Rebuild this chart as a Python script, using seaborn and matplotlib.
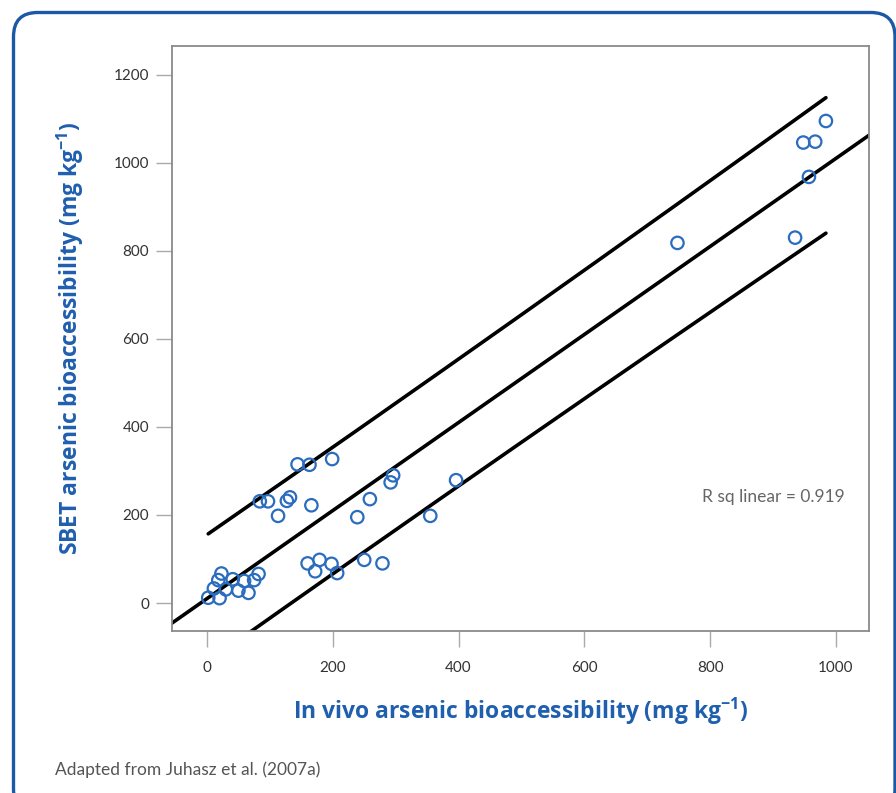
import numpy as np
import pandas as pd
import matplotlib
matplotlib.use("Agg")
import matplotlib.pyplot as plt
import seaborn as sns
from matplotlib.patches import FancyBboxPatch

# ---- data ----
in_vivo = [2, 20, 11, 18, 23, 30, 41, 50, 59, 66, 75, 82, 84, 97, 113, 127, 132,
           144, 163, 166, 199, 160, 172, 179, 198, 207, 239, 259, 250, 279, 292,
           296, 355, 396, 984, 948, 967, 957, 748, 935]
sbet = [12, 11, 33, 52, 67, 31, 54, 28, 50, 23, 52, 66, 231, 231, 198, 232, 240,
        315, 314, 222, 327, 90, 72, 98, 89, 68, 195, 236, 98, 90, 274, 290, 198,
        279, 1095, 1046, 1048, 968, 818, 830]
x_ticks = [0, 200, 400, 600, 800, 1000]
y_ticks = [0, 200, 400, 600, 800, 1000, 1200]
r_sq_text = "R sq linear = 0.919"
x_label = "In vivo arsenic bioaccessibility (mg kg$^{\\mathregular{-1}}$)"
y_label = "SBET arsenic bioaccessibility (mg kg$^{\\mathregular{-1}}$)"
caption = "Adapted from Juhasz et al. (2007a)"

# fitted line and prediction-interval scale
fit_intercept = 10.0
fit_slope = 1.0
pi_t_s = 142.0  # t * residual standard error

df = pd.DataFrame({"in_vivo": in_vivo, "sbet": sbet})

BLUE = "#1f5fae"
sns.set_theme(style="white")
plt.rcParams["font.family"] = ["Lato", "DejaVu Sans"]

fig = plt.figure(figsize=(8.96, 7.93), dpi=100)
ax = fig.add_axes([172 / 896, 1 - 631 / 793, (869 - 172) / 896, (631 - 45.7) / 793])

# individual prediction interval around the fitted line
x = np.asarray(in_vivo, float)
n = len(x)
sxx = np.sum((x - x.mean()) ** 2)
xg = np.linspace(x.min(), x.max(), 200)
yh = fit_intercept + fit_slope * xg
hw = pi_t_s * np.sqrt(1 + 1 / n + (xg - x.mean()) ** 2 / sxx)

ax.axline((0, fit_intercept), slope=fit_slope, color="black", lw=2.6, zorder=2)
ax.plot(xg, yh + hw, color="black", lw=2.6, zorder=2)
ax.plot(xg, yh - hw, color="black", lw=2.6, zorder=2)

sns.scatterplot(data=df, x="in_vivo", y="sbet", ax=ax, marker="o", s=80,
                facecolor="none", edgecolor="#2a6cbd", linewidth=1.6, zorder=3)

ax.set_xlim(-55.6, 1052.5)
ax.set_ylim(-63.6, 1266)
ax.set_xticks(x_ticks)
ax.set_yticks(y_ticks)
ax.tick_params(axis="both", which="major", direction="out", length=11.5,
               width=1.0, color="#aaaaaa", labelsize=11, labelcolor="#333333",
               left=True, bottom=True)
ax.tick_params(axis="x", pad=10)
ax.tick_params(axis="y", pad=5)
for sp in ax.spines.values():
    sp.set_color("#8a8a8a")
    sp.set_linewidth(1.3)

ax.set_xlabel(x_label, color=BLUE, fontsize=16.5, fontweight="bold",
              family=["Open Sans", "DejaVu Sans"], labelpad=15)
ax.set_ylabel(y_label, color=BLUE, fontsize=16.5, fontweight="bold",
              family=["Open Sans", "DejaVu Sans"], labelpad=20)

ax.text(0.9656, 0.229, r_sq_text, transform=ax.transAxes, ha="right", va="center",
        fontsize=12.5, color="#666666")

fig.text(55 / 896, 1 - 770 / 793, caption, ha="left", va="center",
         fontsize=12.5, color="#555555")

border = FancyBboxPatch((13.5 / 896, -20 / 793), (895 - 13.5) / 896, (793 + 20 - 12.5) / 793,
                        boxstyle="round,pad=0,rounding_size=0.027",
                        transform=fig.transFigure, fill=False,
                        edgecolor="#1b58a6", linewidth=2.4, clip_on=False,
                        mutation_aspect=896 / 793)
fig.patches.append(border)

fig.savefig("out.png", dpi=100)
